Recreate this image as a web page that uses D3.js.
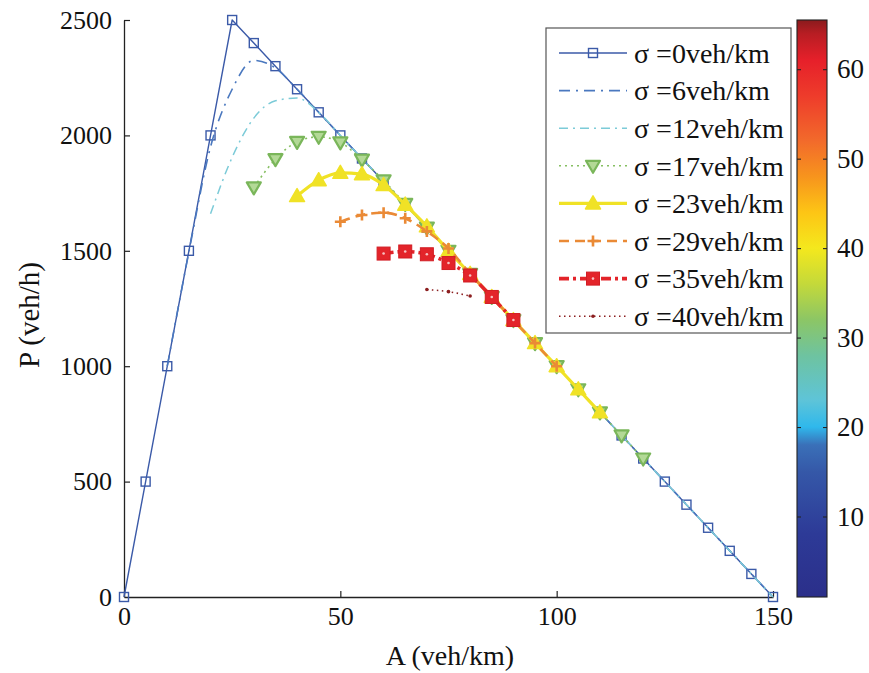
<!DOCTYPE html>
<html>
<head>
<meta charset="utf-8">
<script src="https://cdn.jsdelivr.net/npm/d3@7"></script>
<style>
  html, body { margin: 0; padding: 0; background: #fff; }
  svg { display: block; }
  text { font-family: "Liberation Serif", "Times New Roman", serif; fill: #111; }
</style>
</head>
<body>
<svg id="chart" width="869" height="673"></svg>
<script>
// ---------------- data ----------------
const sigmaLabels = ["σ =0veh/km", "σ =6veh/km", "σ =12veh/km", "σ =17veh/km",
                     "σ =23veh/km", "σ =29veh/km", "σ =35veh/km", "σ =40veh/km"];

const s0A = [0,5,10,15,20,25,30,35,40,45,50,55,60,65,70,75,80,85,90,95,100,105,110,115,120,125,130,135,140,145,150];
const s0P = [0,500,1000,1500,2000,2500,2400,2300,2200,2100,2000,1900,1800,1700,1600,1500,1400,1300,1200,1100,1000,900,800,700,600,500,400,300,200,100,0];

const s6A = [10,15,20,25,30,35,40,45,50,55,60,65,70,75,80,85,90,95,100,105,110,115,120,125,130,135,140,145,150];
const s6P = [1000,1495,1950,2200,2325,2292,2200,2100,2000,1900,1800,1700,1600,1500,1400,1300,1200,1100,1000,900,800,700,600,500,400,300,200,100,0];

const s12A = [20,25,30,35,40,45,50,55,60,65,70,75,80,85,90,95,100,105,110,115,120,125,130,135,140,145,150];
const s12P = [1660,1905,2075,2150,2162,2100,2000,1900,1800,1700,1600,1500,1400,1300,1200,1100,1000,900,800,700,600,500,400,300,200,100,0];

const s17A = [30,35,40,45,50,55,60,65,70,75,80,85,90,95,100,105,110,115,120];
const s17P = [1775,1897,1972,1994,1970,1895,1805,1703,1600,1500,1400,1300,1200,1100,1000,900,800,700,600];

const s23A = [40,45,50,55,60,65,70,75,80,85,90,95,100,105,110];
const s23P = [1737,1806,1838,1832,1785,1700,1606,1500,1400,1300,1200,1100,1000,900,800];

const s29A = [50,55,60,65,70,75,80,85,90,95,100];
const s29P = [1626,1655,1665,1641,1584,1510,1400,1300,1200,1100,1000];

const s35A = [60,65,70,75,80,85,90];
const s35P = [1488,1497,1485,1447,1393,1300,1200];

const s40A = [70,75,80];
const s40P = [1332,1323,1304];

const xTicks = [0,50,100,150];
const yTicks = [0,500,1000,1500,2000,2500];
const cbTicks = [10,20,30,40,50,60];
const cbStopVals = [1,8,15,18,20,23,28,32,36,40,44,48,52,57,61,64,65.5];
const cbStopCols = ["#2b2f8a","#2d3a97","#3558a8","#3a70b8","#2fb8ec","#5ec4d8","#6ec3a0","#8cc665","#c4d93a","#f4e81d","#fdc515","#f7941d","#f26a2b","#ee3c2b","#e6202a","#b71d23","#8a1b1d"];

// ---------------- styles ----------------
const series = [
  {A: s0A,  P: s0P,  color: "#3b5aa8", width: 1.4, dash: null,        marker: "squareOpen", curve: d3.curveLinear},
  {A: s6A,  P: s6P,  color: "#4a78bf", width: 1.6, dash: "11,6,2,6",  marker: null, curve: d3.curveMonotoneX},
  {A: s12A, P: s12P, color: "#7ccbd8", width: 1.5, dash: "9,5,2,5",   marker: null, curve: d3.curveMonotoneX},
  {A: s17A, P: s17P, color: "#86bf62", width: 1.6, dash: "2,4",       marker: "triDown", curve: d3.curveMonotoneX},
  {A: s23A, P: s23P, color: "#f0e226", width: 3.2, dash: null,        marker: "triUp", curve: d3.curveMonotoneX},
  {A: s29A, P: s29P, color: "#ea8a36", width: 2.6, dash: "10,6",      marker: "plus", curve: d3.curveMonotoneX},
  {A: s35A, P: s35P, color: "#e3242a", width: 3.6, dash: "10,4,3,4",  marker: "squareFill", curve: d3.curveMonotoneX},
  {A: s40A, P: s40P, color: "#8c1f20", width: 1.6, dash: "1.5,3.5",   marker: "dot", curve: d3.curveMonotoneX}
];

// ---------------- layout ----------------
const svg = d3.select("#chart");
const x = d3.scaleLinear().domain([0,150]).range([124,773]);
const y = d3.scaleLinear().domain([0,2500]).range([597,20]);
const fmt = d3.format("d");

// axes
const gx = svg.append("g").attr("transform","translate(0,597)")
  .call(d3.axisBottom(x).tickValues(xTicks).tickFormat(fmt).tickSizeInner(-6).tickSizeOuter(0).tickPadding(10));
const gy = svg.append("g").attr("transform","translate(124,0)")
  .call(d3.axisLeft(y).tickValues(yTicks).tickFormat(fmt).tickSizeInner(-6).tickSizeOuter(0).tickPadding(12));
[gx, gy].forEach(g => {
  g.selectAll("path.domain").attr("stroke","#222").attr("stroke-width",1.3);
  g.selectAll(".tick line").attr("stroke","#222").attr("stroke-width",1.2);
  g.selectAll(".tick text").attr("font-size",26).attr("fill","#111");
});
gy.selectAll(".tick line").filter(d => d === 0).remove();

svg.append("text").attr("x",450).attr("y",665).attr("text-anchor","middle")
  .attr("font-size",28).text("A (veh/km)");
svg.append("text").attr("transform","translate(39,315) rotate(-90)").attr("text-anchor","middle")
  .attr("font-size",29).text("P (veh/h)");

// marker drawing
function drawMarker(g, type, color, cx, cy) {
  if (type === "squareOpen") {
    g.append("rect").attr("x",cx-4.5).attr("y",cy-4.5).attr("width",9).attr("height",9)
      .attr("fill","none").attr("stroke",color).attr("stroke-width",1.4);
  } else if (type === "squareFill") {
    g.append("rect").attr("x",cx-6.5).attr("y",cy-6.5).attr("width",13).attr("height",13)
      .attr("fill",color).attr("stroke","#d21d24").attr("stroke-width",1);
    g.append("circle").attr("cx",cx).attr("cy",cy).attr("r",1.3).attr("fill","#f6c2c2");
  } else if (type === "triDown") {
    g.append("path").attr("d",`M${cx-7},${cy-5}L${cx+7},${cy-5}L${cx},${cy+7}Z`)
      .attr("fill","#b3d996").attr("stroke","#7ab65a").attr("stroke-width",2.2).attr("stroke-linejoin","round");
  } else if (type === "triUp") {
    g.append("path").attr("d",`M${cx-7.5},${cy+5.5}L${cx+7.5},${cy+5.5}L${cx},${cy-7.5}Z`)
      .attr("fill",color).attr("stroke",color).attr("stroke-width",1.5).attr("stroke-linejoin","round");
  } else if (type === "plus") {
    g.append("path").attr("d",`M${cx-5.5},${cy}L${cx+5.5},${cy}M${cx},${cy-5.5}L${cx},${cy+5.5}`)
      .attr("stroke",color).attr("stroke-width",2.6);
  } else if (type === "dot") {
    g.append("circle").attr("cx",cx).attr("cy",cy).attr("r",1.8).attr("fill",color);
  }
}

// series
series.forEach(s => {
  const pts = s.A.map((a,i) => [a, s.P[i]]);
  const line = d3.line().x(d => x(d[0])).y(d => y(d[1])).curve(s.curve);
  const g = svg.append("g");
  g.append("path").attr("d", line(pts)).attr("fill","none")
    .attr("stroke", s.color).attr("stroke-width", s.width)
    .attr("stroke-dasharray", s.dash).attr("stroke-linejoin","round");
  if (s.marker) pts.forEach(d => drawMarker(g, s.marker, s.color, x(d[0]), y(d[1])));
});

// legend
const lg = svg.append("g");
lg.append("rect").attr("x",546).attr("y",28).attr("width",245).attr("height",305)
  .attr("fill","#fff").attr("stroke","#555").attr("stroke-width",1.2);
series.forEach((s,i) => {
  const cy = 53 + i*37.6;
  lg.append("line").attr("x1",559).attr("x2",627).attr("y1",cy).attr("y2",cy)
    .attr("stroke",s.color).attr("stroke-width",s.width).attr("stroke-dasharray",s.dash);
  if (s.marker) drawMarker(lg, s.marker, s.color, 593, cy);
  lg.append("text").attr("x",634).attr("y",cy).attr("dy","0.35em")
    .attr("font-size",28).text(sigmaLabels[i]);
});

// colorbar
const cb = d3.scaleLinear().domain([1,65.5]).range([597,20]);
const cmap = d3.scaleLinear().domain(cbStopVals).range(cbStopCols);
const defs = svg.append("defs");
const grad = defs.append("linearGradient").attr("id","jet")
  .attr("x1",0).attr("y1",1).attr("x2",0).attr("y2",0);
cbStopVals.forEach(v => {
  grad.append("stop").attr("offset", (v-1)/(65.5-1)).attr("stop-color", cmap(v));
});
svg.append("rect").attr("x",797).attr("y",20).attr("width",30).attr("height",577)
  .attr("fill","url(#jet)").attr("stroke","#222").attr("stroke-width",1.1);
const gcb = svg.append("g").attr("transform","translate(827,0)")
  .call(d3.axisRight(cb).tickValues(cbTicks).tickFormat(fmt).tickSizeInner(-4).tickSizeOuter(0).tickPadding(10));
gcb.select("path.domain").remove();
gcb.selectAll(".tick line").attr("stroke","#222").attr("stroke-width",1.1);
gcb.selectAll(".tick text").attr("font-size",27).attr("fill","#111");
gcb.selectAll(".tick").append("line").attr("x1",-30).attr("x2",-26).attr("stroke","#222").attr("stroke-width",1.1);
</script>
</body>
</html>
